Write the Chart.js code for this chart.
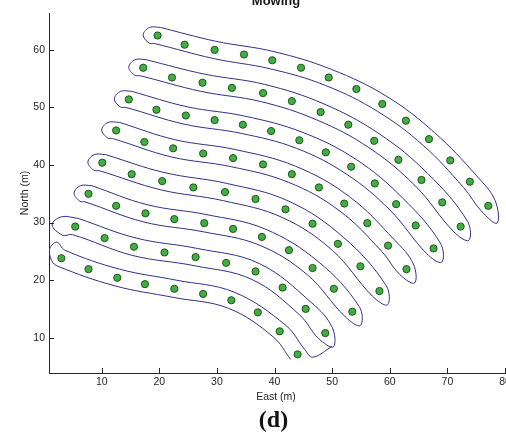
<!DOCTYPE html>
<html>
<head>
<meta charset="utf-8">
<script src="https://cdn.jsdelivr.net/npm/chart.js@4.4.1/dist/chart.umd.min.js"></script>
<style>
  html, body { margin: 0; padding: 0; background: #fff; overflow: hidden; width: 506px; height: 433px; }
  #wrap { position: absolute; left: 0; top: 0; width: 520px; height: 433px; }
  #caption { position: absolute; left: 0; width: 547px; top: 406px; text-align: center;
             font: bold 24px "Liberation Serif", "Times New Roman", serif; color: #111; }
</style>
</head>
<body>
<div id="wrap"><canvas id="chart_mowing" width="520" height="433"></canvas></div>
<div id="caption">(d)</div>
<script>
// tick labels
const xTicks = [10, 20, 30, 40, 50, 60, 70, 80];
const yTicks = [10, 20, 30, 40, 50, 60];

// green waypoints, one array per swath row [East, North]
const dots1 = [[19.7,62.5],[24.4,60.9],[29.6,60.0],[34.7,59.2],[39.6,58.2],[44.6,56.9],[49.4,55.2],[54.2,53.2],[58.7,50.6],[62.8,47.7],[66.8,44.5],[70.5,40.8],[73.9,37.1],[77.1,32.9]];
const dots2 = [[17.2,56.9],[22.2,55.2],[27.5,54.3],[32.6,53.4],[38.0,52.5],[43.0,51.1],[48.0,49.2],[52.8,47.0],[57.3,44.2],[61.5,40.9],[65.5,37.4],[69.1,33.5],[72.3,29.3]];
const dots3 = [[14.7,51.4],[19.5,49.6],[24.6,48.6],[29.6,47.8],[34.5,47.0],[39.4,45.9],[44.3,44.3],[48.9,42.2],[53.3,39.7],[57.4,36.8],[61.1,33.2],[64.5,29.5],[67.6,25.5]];
const dots4 = [[12.5,46.0],[17.4,44.0],[22.4,42.9],[27.6,42.0],[32.8,41.2],[38.0,40.1],[43.0,38.4],[47.7,36.1],[52.1,33.3],[56.1,29.9],[59.7,26.0],[62.9,21.9]];
const dots5 = [[10.1,40.4],[15.2,38.4],[20.5,37.2],[25.9,36.1],[31.4,35.3],[36.7,34.1],[41.9,32.3],[46.6,29.8],[51.0,26.3],[54.9,22.4],[58.2,18.1]];
const dots6 = [[7.7,35.0],[12.5,32.9],[17.6,31.6],[22.6,30.6],[27.8,29.9],[32.8,28.9],[37.8,27.5],[42.5,25.2],[46.6,22.1],[50.3,18.5],[53.5,14.5]];
const dots7 = [[5.4,29.3],[10.5,27.3],[15.6,25.8],[20.9,24.8],[26.3,24.0],[31.6,23.0],[36.7,21.5],[41.4,18.7],[45.4,15.0],[48.8,10.8]];
const dots8 = [[3.0,23.8],[7.7,21.9],[12.7,20.4],[17.5,19.3],[22.6,18.5],[27.6,17.6],[32.5,16.5],[37.1,14.4],[40.9,11.1],[44.0,7.1]];

// mower path: pass above / below each row
const top1 = [[20.2,63.9],[29.8,61.5],[39.9,59.7],[49.9,56.6],[59.5,51.9],[67.8,45.6],[75.1,38.1],[78.3,33.8]];
const bot1 = [[19.2,61.1],[29.4,58.5],[39.3,56.7],[48.9,53.8],[57.9,49.3],[65.8,43.4],[72.8,36.1],[75.9,32.0]];
const top2 = [[17.7,58.3],[27.8,55.8],[38.3,54.0],[48.6,50.6],[58.2,45.4],[66.6,38.5],[73.5,30.2]];
const bot2 = [[16.7,55.5],[27.2,52.8],[37.7,51.0],[47.4,47.8],[56.4,43.0],[64.5,36.3],[71.1,28.4]];
const top3 = [[15.2,52.8],[24.9,50.1],[34.8,48.5],[44.8,45.7],[54.1,41.0],[62.2,34.3],[68.8,26.4]];
const bot3 = [[14.2,50.0],[24.3,47.1],[34.2,45.5],[43.8,42.9],[52.5,38.4],[60.0,32.2],[66.4,24.6]];
const top4 = [[13.1,47.4],[22.7,44.4],[33.1,42.7],[43.6,39.8],[53.0,34.5],[60.8,27.0],[64.1,22.8]];
const bot4 = [[11.9,44.6],[22.1,41.4],[32.5,39.7],[42.4,37.0],[51.2,32.1],[58.6,25.0],[61.7,21.0]];
const top5 = [[10.7,41.8],[20.8,38.7],[31.7,36.8],[42.5,33.7],[52.0,27.4],[59.4,19.0]];
const bot5 = [[9.6,39.0],[20.2,35.7],[31.1,33.8],[41.3,30.9],[50.0,25.2],[57.0,17.2]];
const top6 = [[8.3,36.4],[17.9,33.1],[28.1,31.4],[38.3,28.9],[47.6,23.2],[54.7,15.4]];
const bot6 = [[7.1,33.6],[17.3,30.1],[27.6,28.4],[37.3,26.1],[45.6,21.0],[52.3,13.6]];
const top7 = [[6.0,30.7],[16.0,27.3],[26.6,25.5],[37.3,22.9],[46.5,16.0],[50.0,11.8]];
const bot7 = [[4.9,27.9],[15.3,24.3],[26.1,22.5],[36.1,20.1],[44.3,14.0],[47.6,9.9]];
const top8 = [[3.6,25.2],[13.1,21.9],[22.9,20.0],[33.0,17.9],[42.0,12.1],[45.2,8.0]];
const bot8 = [[2.4,22.4],[12.3,19.0],[22.4,17.0],[32.0,15.1],[39.8,10.1],[42.8,6.2]];

// headland turns: west loops (lower, outer, upper) and east tips
const leftTurn = [
    [[18.2,61.2],[17.2,62.6],[18.3,63.9]],
    [[15.7,55.6],[14.7,57.0],[15.8,58.3]],
    [[13.2,50.1],[12.2,51.5],[13.3,52.8]],
    [[11.0,44.7],[10.0,46.1],[11.1,47.4]],
    [[8.6,39.1],[7.6,40.5],[8.7,41.8]],
    [[6.2,33.7],[5.2,35.1],[6.3,36.4]],
    [[3.2,27.8],[1.4,29.6],[3.0,31.0]],
    [[1.3,23.4],[0.95,25.4],[2.2,26.6]]
];
const rightTurn = [[78.6,29.9],[73.7,26.9],[69.0,23.1],[64.3,19.5],[59.6,15.7],[54.9,12.1],[50.2,8.4]];
const lastTail = [[46.6,6.6],[50.0,8.5]];

const allDots = [dots1, dots2, dots3, dots4, dots5, dots6, dots7, dots8];
const tops = [top1, top2, top3, top4, top5, top6, top7, top8];
const bots = [bot1, bot2, bot3, bot4, bot5, bot6, bot7, bot8];

const pt = ([x, y]) => ({ x, y });
const lineColor = '#30308a';

let datasets = [];
for (let i = 0; i < 7; i++) {
    const pts = [...tops[i], rightTurn[i], ...bots[i].slice().reverse(), ...leftTurn[i], tops[i][0]];
    datasets.push({
        type: 'line', data: pts.map(pt), borderColor: lineColor, borderWidth: 1,
        pointRadius: 0, tension: 0.38, fill: false
    });
}
// last row ends open at the south-east corner
const lastPts = [...bot8.slice().reverse(), ...leftTurn[7], ...top8, ...lastTail];
datasets.push({
    type: 'line', data: lastPts.map(pt), borderColor: lineColor, borderWidth: 1,
    pointRadius: 0, tension: 0.38, fill: false
});

datasets.push({
    type: 'scatter',
    data: allDots.flat().map(pt),
    pointRadius: 3.6,
    backgroundColor: '#42ad42',
    borderColor: '#1c561c',
    borderWidth: 1
});

const axisColor = '#262626';
const font = { family: '"Liberation Sans", Arial, sans-serif', size: 10.5 };

// MATLAB style ticks pointing into the axes, plus titles
const extras = {
    id: 'extras',
    afterDraw(chart) {
        const { ctx, chartArea, scales } = chart;
        ctx.save();
        ctx.strokeStyle = axisColor;
        ctx.lineWidth = 1;
        ctx.beginPath();
        scales.x.ticks.forEach(t => {
            const px = Math.round(scales.x.getPixelForValue(t.value)) + 0.5;
            ctx.moveTo(px, chartArea.bottom);
            ctx.lineTo(px, chartArea.bottom - 5);
        });
        scales.y.ticks.forEach(t => {
            const py = Math.round(scales.y.getPixelForValue(t.value)) + 0.5;
            ctx.moveTo(chartArea.left, py);
            ctx.lineTo(chartArea.left + 5, py);
        });
        ctx.stroke();

        ctx.fillStyle = '#1a1a1a';
        ctx.textAlign = 'center';
        ctx.textBaseline = 'alphabetic';
        ctx.font = 'bold 13px "Liberation Sans", Arial, sans-serif';
        ctx.fillText('Mowing', 276, 5);

        ctx.fillStyle = axisColor;
        ctx.font = '10.5px "Liberation Sans", Arial, sans-serif';
        ctx.fillText('East (m)', 276, 400);
        ctx.translate(28, 193);
        ctx.rotate(-Math.PI / 2);
        ctx.fillText('North (m)', 0, 0);
        ctx.restore();
    }
};

new Chart(document.getElementById('chart_mowing'), {
    type: 'scatter',
    data: { datasets },
    options: {
        responsive: false,
        animation: false,
        layout: { padding: { left: 0, top: 13, right: 15, bottom: 0 } },
        plugins: { legend: { display: false }, tooltip: { enabled: false } },
        scales: {
            x: {
                type: 'linear', min: 0.85, max: 80,
                afterBuildTicks: s => { s.ticks = xTicks.map(v => ({ value: v })); },
                afterFit: s => { s.height = 60; },
                grid: { display: false, drawTicks: false },
                border: { display: true, color: axisColor, width: 1 },
                ticks: { color: axisColor, font, padding: 3, maxRotation: 0 }
            },
            y: {
                type: 'linear', min: 3.86, max: 66.41,
                afterBuildTicks: s => { s.ticks = yTicks.map(v => ({ value: v })); },
                afterFit: s => { s.width = 49; },
                grid: { display: false, drawTicks: false },
                border: { display: true, color: axisColor, width: 1 },
                ticks: { color: axisColor, font, padding: 4 }
            }
        }
    },
    plugins: [extras]
});
</script>
</body>
</html>
